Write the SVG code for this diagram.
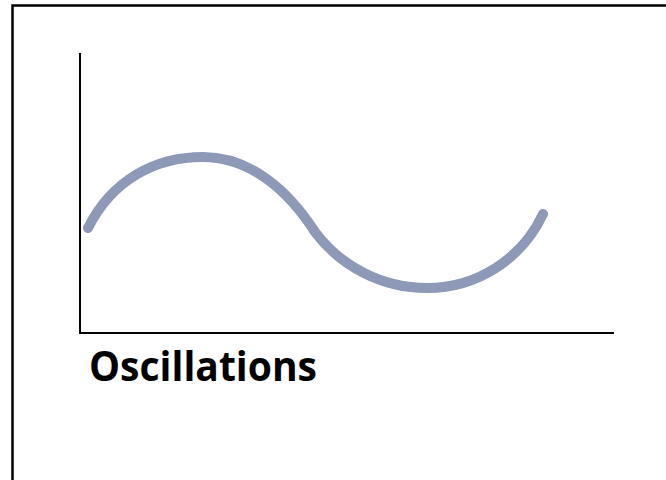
<svg xmlns="http://www.w3.org/2000/svg" width="666" height="480" viewBox="0 0 666 480">
  <style>
    .axis { stroke: #000; stroke-width: 2; fill: none; }
    .wave { stroke: #8E99B8; stroke-width: 10; fill: none; stroke-linecap: round; }
    .label { font-family: "Open Sans", "Noto Sans", "Liberation Sans", sans-serif; font-weight: bold; font-size: 42px; fill: #000; }
  </style>
  <rect x="0" y="0" width="666" height="480" fill="#fff"/>
  <rect x="12.5" y="5.5" width="700" height="500" fill="none" stroke="#000" stroke-width="2.5"/>
  <g id="axes">
    <path class="axis" d="M80 53 V333 H614"/>
  </g>
  <g id="wave">
    <path class="wave" d="M88 228 C112 180 155 157 203 157 C250 157 288 190 315 232 A140 140 0 0 0 427 288 A128 128 0 0 0 543 214"/>
  </g>
  <g id="label">
    <text class="label" x="89" y="381" textLength="228" lengthAdjust="spacingAndGlyphs">Oscillations</text>
  </g>
</svg>
